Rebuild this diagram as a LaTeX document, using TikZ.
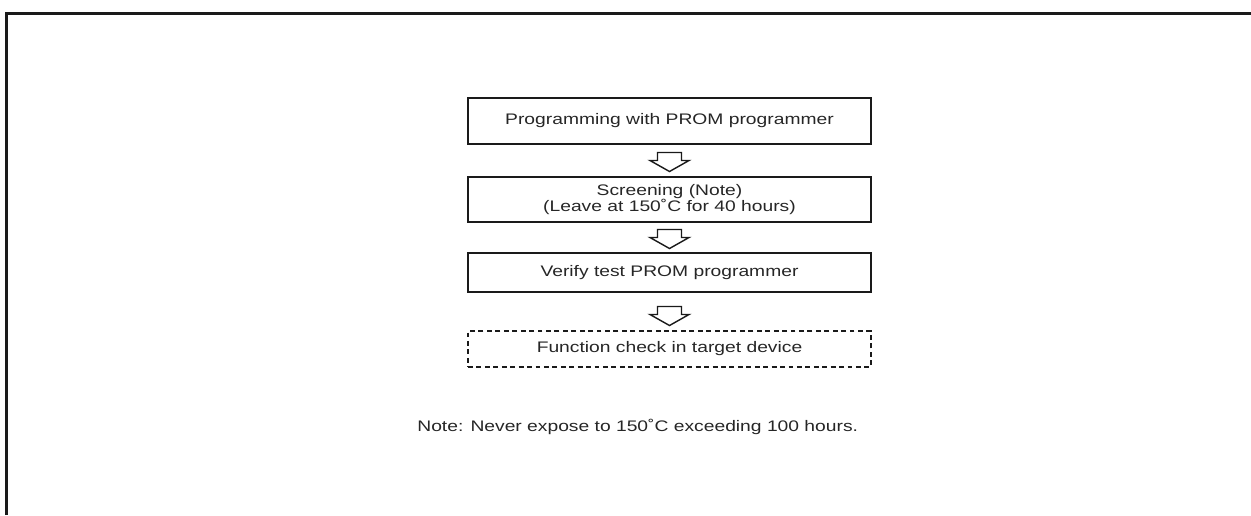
\documentclass[tikz,border=0pt]{standalone}
\usepackage{fontspec}
\setmainfont{Liberation Sans}[FakeStretch=1.26]
\usepackage{tikz}
\usetikzlibrary{calc,positioning}
\definecolor{blackmain}{HTML}{1A1A1A}
\definecolor{textmain}{HTML}{262626}
\tikzset{
  every node/.append style={font=\fontsize{8.7}{9.3}\selectfont,text=textmain},
  stepbox/.style={draw=blackmain,line width=0.9pt,minimum width=8.06cm,align=center,inner sep=0pt},
  checkbox/.style={stepbox,dash pattern=on 2.8pt off 2pt},
  hollowarrow/.pic={\draw[blackmain,line width=0.8pt,line join=miter]
    (-12,-8) -- (12,-8) -- (12,0) -- (19.5,0) -- (0,11) -- (-19.5,0) -- (-12,0) -- cycle;}
}

\begin{document}
\begin{tikzpicture}[x=0.02cm,y=-0.02cm]
  \useasboundingbox (0,0) rectangle (1251,515);
  \draw[blackmain,line width=1.5pt] (6.3,515) -- (6.3,13.5) -- (1251,13.5);
  \node[stepbox,minimum height=0.92cm] (prog) at (669.5,121) {Programming with PROM programmer};
  \node[stepbox,minimum height=0.9cm] (screen) at (669.5,199.5) {Screening (Note)\\(Leave at 150˚C for 40 hours)};
  \node[stepbox,minimum height=0.78cm] (verify) at (669.5,272.5) {Verify test PROM programmer};
  \node[checkbox,minimum height=0.72cm] (check) at (669.5,349) {Function check in target device};
  \node[anchor=west,inner sep=0pt] (note) at (417,426.5) {Note: Never expose to 150˚C exceeding 100 hours.};
  \pic at ($(prog.south)!0.5!(screen.north)$) {hollowarrow};
  \pic at ($(screen.south)!0.5!(verify.north)$) {hollowarrow};
  \pic at ($(verify.south)!0.5!(check.north)+(0,3)$) {hollowarrow};
\end{tikzpicture}
\end{document}
